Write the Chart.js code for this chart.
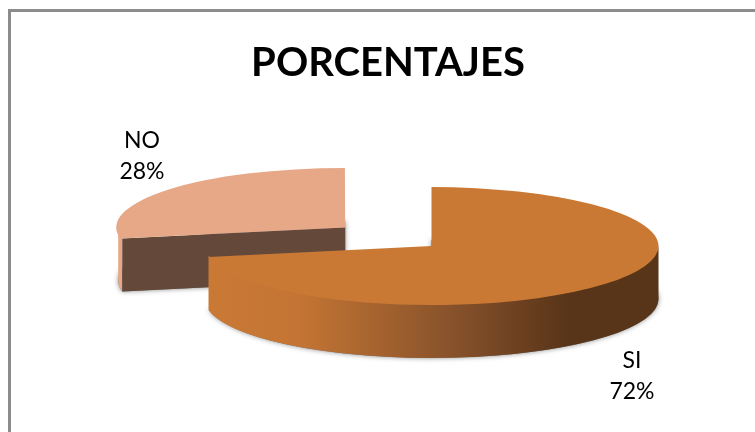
<!DOCTYPE html>
<html>
<head>
<meta charset="utf-8">
<script src="https://cdn.jsdelivr.net/npm/chart.js@4"></script>
<style>
	html, body { margin: 0; padding: 0; background: #fff; overflow: hidden; }
	#wrap { position: relative; width: 755px; height: 432px; }
</style>
</head>
<body>
<div id="wrap"><canvas id="pieChart"></canvas></div>
<script>
const categories = ['SI', 'NO'];
const percentages = [72, 28];
const chartTitle = 'PORCENTAJES';

const faceColors = ['#CA7935', '#E6A886'];
const rimColors = [null, '#E6A886'];
const edgeColors = [null, '#64483A'];

// look of the tilted pie
const radius = 227;
const tilt = 59 / 227;
const depth = 53;
const pieX = 431.5;
const pieY = 246;
const labelSpots = [[632, 376], [142, 156]];

// ArcElement moves a slice by offset / 4, so the same here
const sliceCenter = (arc) => {
	const mid = (arc.startAngle + arc.endAngle) / 2;
	const off = (arc.options.offset || 0) / 4;
	return { x: pieX + Math.cos(mid) * off, y: pieY + Math.sin(mid) * off * tilt };
};

const sectorPath = (ctx, arc, c, dy) => {
	ctx.beginPath();
	ctx.moveTo(c.x, c.y + dy);
	ctx.ellipse(c.x, c.y + dy, arc.outerRadius, arc.outerRadius * tilt, 0, arc.startAngle, arc.endAngle);
	ctx.closePath();
};

const rimGradient = (ctx) => {
	const g = ctx.createLinearGradient(209, 0, 659, 0);
	g.addColorStop(0, '#CA7935');
	g.addColorStop(0.2, '#C47534');
	g.addColorStop(0.56, '#84502A');
	g.addColorStop(0.8, '#583418');
	g.addColorStop(1, '#583418');
	return g;
};

const pie3d = {
	id: 'pie3d',
	beforeDraw(chart) {
		const { ctx } = chart;
		ctx.save();
		ctx.strokeStyle = '#8C8C8C';
		ctx.lineWidth = 3;
		ctx.strokeRect(9.5, 10.5, 800, 500);
		ctx.restore();
	},
	beforeDatasetsDraw(chart) {
		const { ctx } = chart;
		const arcs = chart.getDatasetMeta(0).data;
		// back slice first so the front one covers it
		for (let i = arcs.length - 1; i >= 0; i--) {
			const arc = arcs[i];
			const c = sliceCenter(arc);
			const r = arc.outerRadius;

			ctx.save();
			ctx.shadowColor = 'rgba(60,60,60,0.6)';
			ctx.shadowBlur = 5;
			ctx.fillStyle = '#777';
			sectorPath(ctx, arc, c, depth);
			ctx.fill();
			ctx.restore();

			// outer wall, only the part that faces the viewer
			// starts a bit higher so no white seam shows under the face
			const from = Math.max(arc.startAngle, 0);
			const to = Math.min(arc.endAngle, Math.PI);
			if (to > from) {
				ctx.beginPath();
				ctx.ellipse(c.x, c.y - 1.5, r, r * tilt, 0, from, to);
				ctx.ellipse(c.x, c.y + depth, r, r * tilt, 0, to, from, true);
				ctx.closePath();
				ctx.fillStyle = rimColors[i] || rimGradient(ctx);
				ctx.fill();
			}

			// cut edge
			if (edgeColors[i] && Math.sin(arc.startAngle) > 0) {
				const ex = c.x + Math.cos(arc.startAngle) * r;
				const ey = c.y + Math.sin(arc.startAngle) * r * tilt;
				ctx.beginPath();
				ctx.moveTo(c.x, c.y);
				ctx.lineTo(ex, ey);
				ctx.lineTo(ex, ey + depth);
				ctx.lineTo(c.x, c.y + depth);
				ctx.closePath();
				ctx.fillStyle = edgeColors[i];
				ctx.fill();
			}
		}
		// squash the library's own arcs into the top faces
		const first = arcs[0];
		ctx.save();
		ctx.setTransform(1, 0, 0, tilt, pieX - first.x, pieY - first.y * tilt);
	},
	afterDatasetsDraw(chart) {
		const { ctx } = chart;
		ctx.restore();
		ctx.save();
		ctx.fillStyle = '#000';
		ctx.font = '23px Lato';
		ctx.textAlign = 'center';
		ctx.textBaseline = 'middle';
		categories.forEach((cat, i) => {
			const total = percentages.reduce((a, b) => a + b, 0);
			const [x, y] = labelSpots[i];
			ctx.fillText(cat, x, y - 15);
			ctx.fillText(`${Math.round(percentages[i] / total * 100)}%`, x, y + 16);
		});
		ctx.restore();
	},
};

new Chart(document.querySelector('#pieChart'), {
	type: 'pie',
	data: {
		labels: categories,
		datasets: [{
			data: percentages,
			backgroundColor: faceColors,
			borderWidth: 0,
			offset: [0, 448],
			clip: false,
		}],
	},
	options: {
		responsive: true,
		maintainAspectRatio: false,
		animation: false,
		radius: radius,
		cutout: '0%', // plain 0 gives NaN once the offset is bigger than the chart
		layout: { padding: { left: 21 } },
		plugins: {
			legend: { display: false },
			tooltip: { enabled: false },
			title: {
				display: true,
				text: chartTitle,
				color: '#000',
				font: { family: 'Lato', size: 40, weight: 'bold' },
				padding: { top: 39, bottom: 10 },
			},
		},
	},
	plugins: [pie3d],
});
</script>
</body>
</html>
